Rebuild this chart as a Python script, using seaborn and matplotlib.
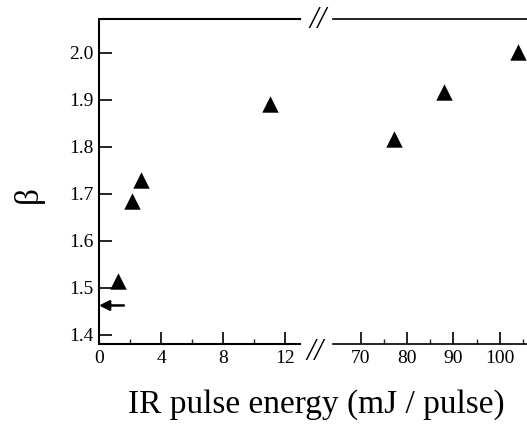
import matplotlib
matplotlib.use("Agg")
import matplotlib.pyplot as plt
import seaborn as sns
import pandas as pd
from matplotlib.ticker import FixedLocator

# data
energy_low = [1.25, 2.15, 2.7, 11.0]
beta_low = [1.515, 1.685, 1.730, 1.891]
energy_high = [77.1, 87.9, 104.0]
beta_high = [1.816, 1.916, 2.002]
arrow_beta = 1.462
left_xticks = [0, 4, 8, 12]
left_minor = [2, 6, 10]
right_xticks = [70, 80, 90, 100]
right_minor = [75, 85, 95, 105]
yticks = [1.4, 1.5, 1.6, 1.7, 1.8, 1.9, 2.0]

sns.set_theme(style="ticks")
plt.rcParams['font.family'] = ['Liberation Serif', 'DejaVu Serif']

W, H = 527, 424
fig = plt.figure(figsize=(W / 100, H / 100), dpi=100)

def frac(x0, y0, x1, y1):
    return [x0 / W, 1 - y1 / H, (x1 - x0) / W, (y1 - y0) / H]

axL = fig.add_axes(frac(99, 19.5, 300, 343.5))
axR = fig.add_axes(frac(333, 19.5, 527, 343.5))

dfL = pd.DataFrame({"E": energy_low, "b": beta_low})
dfR = pd.DataFrame({"E": energy_high, "b": beta_high})

for ax, df in ((axL, dfL), (axR, dfR)):
    sns.scatterplot(data=df, x="E", y="b", ax=ax, marker="^", s=140,
                    color="black", edgecolor="black", linewidth=0, clip_on=False, zorder=5)
    ax.set_ylim(1.381, 2.071)
    ax.set_xlabel("")
    ax.set_ylabel("")
    ax.tick_params(axis="both", direction="in", colors="black", labelsize=14,
                   width=1.2, length=8.6, pad=5)
    ax.tick_params(axis="both", which="minor", direction="in", width=1.0, length=3.6)
    for lab in ax.get_xticklabels() + ax.get_yticklabels():
        lab.set_color("black")

axL.set_xlim(0, 12.94)
axL.set_xticks(left_xticks)
axL.xaxis.set_minor_locator(FixedLocator(left_minor))
axL.set_yticks(yticks)
axL.set_yticklabels([f"{v:.1f}" for v in yticks])
axL.tick_params(axis="y", length=9.4, pad=4)
axL.tick_params(axis="y", which="minor", length=0)
axL.spines["right"].set_visible(False)
for s in ("left", "top", "bottom"):
    axL.spines[s].set_linewidth(1.5)
    axL.spines[s].set_color("black")

axR.set_xlim(64.0, 105.9)
axR.set_xticks(right_xticks)
axR.xaxis.set_minor_locator(FixedLocator(right_minor))
axR.set_yticks([])
axR.spines["left"].set_visible(False)
axR.spines["right"].set_visible(False)
for s in ("top", "bottom"):
    axR.spines[s].set_linewidth(1.2)
    axR.spines[s].set_color("black")

# arrow marking limit value
axL.annotate("", xy=(0.0, arrow_beta), xytext=(1.6, arrow_beta),
             arrowprops=dict(arrowstyle="-|>", color="black", lw=1.8,
                             mutation_scale=15, shrinkA=0, shrinkB=0))

# axis break marks
fig.text(318 / W, 1 - 20 / H, "//", fontsize=22, style="italic",
         ha="center", va="center", color="black")
fig.text(315 / W, 1 - 352 / H, "//", fontsize=22, style="italic",
         ha="center", va="center", color="black")

fig.text(316 / W, 1 - 413 / H, "IR pulse energy (mJ / pulse)", fontsize=24,
         ha="center", va="baseline", color="black")
fig.text(28 / W, 1 - 195 / H, "β", fontsize=24, rotation=90,
         ha="center", va="center", color="black")

fig.savefig("out.png", dpi=100)
